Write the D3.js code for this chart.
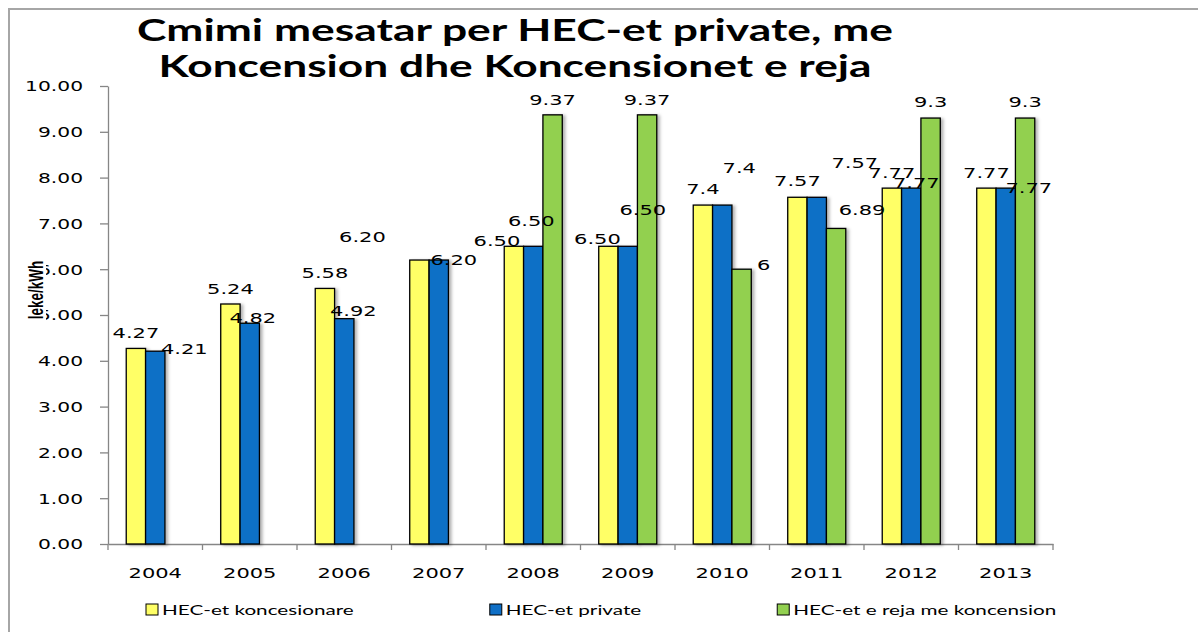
<!DOCTYPE html>
<html>
<head>
<meta charset="utf-8">
<script src="https://cdn.jsdelivr.net/npm/d3@7"></script>
<style>
  body { margin: 0; background: #fff; }
  svg { display: block; }
</style>
</head>
<body>
<div id="main"></div>
<script>
// data

const years = ['2004', '2005', '2006', '2007', '2008', '2009', '2010', '2011', '2012', '2013'];
const koncesionare = ['4.27', '5.24', '5.58', '6.20', '6.50', '6.50', '7.4', '7.57', '7.77', '7.77'];
const privat = ['4.21', '4.82', '4.92', '6.20', '6.50', '6.50', '7.4', '7.57', '7.77', '7.77'];
const reja = [null, null, null, null, '9.37', '9.37', '6', '6.89', '9.3', '9.3'];
const seriesNames = ['HEC-et koncesionare', 'HEC-et private', 'HEC-et e reja me koncension'];
const yTicks = [0, 1, 2, 3, 4, 5, 6, 7, 8, 9, 10];

// label nudges (px, relative to the top centre of the bar), the way Excel left them
const nudgeKonc = [[0, -10], [0, -10], [0, -10], [-57, -18], [-17, 0], [-11, -2], [0, -11], [0, -11], [0, -10], [0, -10]];
const nudgePriv = [[29, 3], [3, 0], [9, -3], [15, 5], [-2, -20], [15, -31], [17, -32], [38, -29], [5, 0], [23, 5]];
const nudgeReja = [null, null, null, null, [0, -10], [0, -10], [22, 1], [26, -13], [0, -11], [0, -11]];

// svg

const w = 1198;
const h = 632;
const k = 1.5; // text in the picture is stretched sideways

const colors = ['#ffff66', '#0f6fc6', '#92d050'];

const svg = d3.select('#main')
    .append('svg')
    .attr('width', w)
    .attr('height', h)

const defs = svg.append('defs')
defs.append('filter')
    .attr('id', 'shadow')
    .attr('x', '-30%').attr('y', '-5%')
    .attr('width', '180%').attr('height', '115%')
    .append('feDropShadow')
    .attr('dx', 2.5).attr('dy', 1)
    .attr('stdDeviation', 1.5)
    .attr('flood-color', '#000')
    .attr('flood-opacity', 0.3)

// frame
svg.append('path')
    .attr('d', `M9,${h} V9 H${w}`)
    .attr('fill', 'none')
    .attr('stroke', '#a6a6a6')
    .attr('stroke-width', 2)

// title
const titleLines = [
    ['Cmimi mesatar per HEC-et private, me', 41, 756],
    ['Koncension dhe Koncensionet e reja', 77, 713]
];
svg.selectAll('.title')
    .data(titleLines)
    .enter()
    .append('text')
    .attr('class', 'title')
    .attr('x', 515)
    .attr('y', d => d[1])
    .attr('text-anchor', 'middle')
    .attr('textLength', d => d[2])
    .attr('lengthAdjust', 'spacingAndGlyphs')
    .style('font-family', 'Lato, "Open Sans", sans-serif')
    .style('font-weight', 'bold')
    .style('font-size', '30px')
    .text(d => d[0])

// scales

const x0 = d3.scaleBand()
    .domain(years)
    .range([108, 1053])
    .paddingInner(0.386)
    .paddingOuter(0.193)

const series = [
    { name: seriesNames[0], values: koncesionare, nudge: nudgeKonc, color: colors[0] },
    { name: seriesNames[1], values: privat, nudge: nudgePriv, color: colors[1] },
    { name: seriesNames[2], values: reja, nudge: nudgeReja, color: colors[2] }
];

const x1 = d3.scaleBand()
    .domain(seriesNames)
    .range([0, x0.bandwidth()])

const y = d3.scaleLinear()
    .domain([0, 10])
    .range([544, 86])

// y axis

const yAxis = d3.axisLeft(y)
    .tickValues(yTicks)
    .tickSize(8)
    .tickSizeOuter(0)
    .tickFormat(d3.format('.2f'))

const yg = svg.append('g')
    .attr('transform', 'translate(108,0)')
    .call(yAxis)
yg.selectAll('path, line').attr('stroke', '#868686').attr('stroke-width', 1.3)
yg.selectAll('text')
    .attr('x', -25 / k)
    .attr('dy', '0.36em')
    .attr('transform', `scale(${k},1)`)
    .style('font-family', '"DejaVu Sans", Verdana, sans-serif')
    .style('font-size', '13.5px')
    .attr('fill', '#000')

// y title with its white box
const yt = svg.append('g')
    .attr('transform', `translate(43,290) scale(${k},1) rotate(-90)`)
yt.append('rect')
    .attr('x', -31).attr('y', -11)
    .attr('width', 62).attr('height', 13)
    .attr('fill', '#fff')
yt.append('text')
    .attr('text-anchor', 'middle')
    .style('font-family', '"Liberation Sans", Arial, sans-serif')
    .style('font-weight', 'bold')
    .style('font-size', '13.5px')
    .text('leke/kWh')

// x axis

const xAxis = d3.axisBottom(x0)
    .tickSize(0)
    .tickSizeOuter(0)

const xg = svg.append('g')
    .attr('transform', 'translate(0,544)')
    .call(xAxis)
xg.select('.domain').attr('stroke', '#868686').attr('stroke-width', 1.3)
xg.selectAll('text')
    .attr('y', 0)
    .attr('dy', 0)
    .attr('transform', `translate(0,34) scale(${k},1)`)
    .style('font-family', '"DejaVu Sans", Verdana, sans-serif')
    .style('font-size', '14px')
    .attr('fill', '#000')

const edges = years.map(d => x0(d) - x0.step() * x0.paddingOuter()).concat([x0.range()[1]])
xg.selectAll('.edge')
    .data(edges)
    .enter()
    .append('line')
    .attr('class', 'edge')
    .attr('x1', d => d).attr('x2', d => d)
    .attr('y1', 0).attr('y2', 6)
    .attr('stroke', '#868686')
    .attr('stroke-width', 1.3)

// bars

const cells = [];
series.forEach(s => {
    years.forEach((yr, i) => {
        if (s.values[i] !== null) {
            cells.push({ year: yr, name: s.name, text: s.values[i], v: +s.values[i], nudge: s.nudge[i], color: s.color })
        }
    })
})

svg.append('g')
    .selectAll('rect')
    .data(cells)
    .enter()
    .append('rect')
    .attr('x', d => x0(d.year) + x1(d.name))
    .attr('y', d => y(d.v))
    .attr('width', x1.bandwidth())
    .attr('height', d => y(0) - y(d.v))
    .attr('fill', d => d.color)
    .attr('stroke', '#000')
    .attr('stroke-width', 1.3)
    .attr('filter', 'url(#shadow)')

svg.append('g')
    .selectAll('text')
    .data(cells)
    .enter()
    .append('text')
    .attr('text-anchor', 'middle')
    .attr('transform', d => {
        let cx = x0(d.year) + x1(d.name) + x1.bandwidth() / 2 + d.nudge[0];
        let cy = y(d.v) + d.nudge[1];
        return `translate(${cx},${cy}) scale(${k},1)`
    })
    .style('font-family', '"DejaVu Sans", Verdana, sans-serif')
    .style('font-size', '14px')
    .text(d => d.text)

// legend

const legend = svg.append('g')
let lx = 146;
seriesNames.forEach((name, i) => {
    const item = legend.append('g').attr('transform', `translate(${lx},604)`)
    item.append('rect')
        .attr('width', 12).attr('height', 11)
        .attr('fill', colors[i])
        .attr('stroke', '#000')
        .attr('stroke-width', 1)
    const t = item.append('text')
        .attr('transform', `translate(16,11) scale(${k},1)`)
        .style('font-family', 'Lato, "Open Sans", sans-serif')
        .style('font-size', '13.8px')
        .text(name)
    lx += 16 + t.node().getComputedTextLength() * k + 136;
})
</script>
</body>
</html>
